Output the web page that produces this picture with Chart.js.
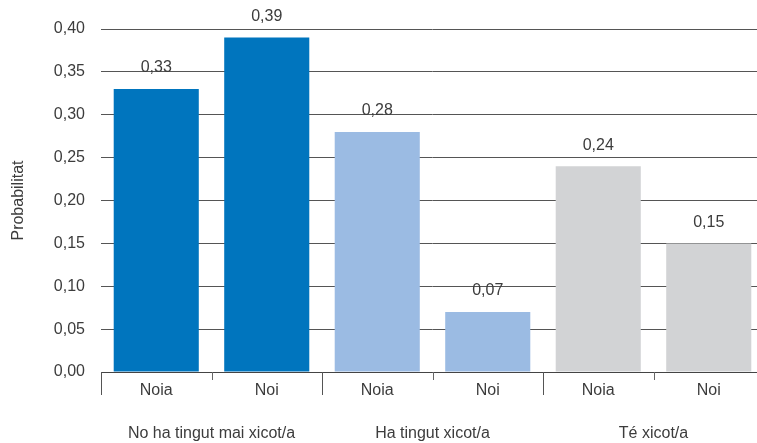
<!DOCTYPE html>
<html>
<head>
<meta charset="utf-8">
<script src="https://cdn.jsdelivr.net/npm/chart.js@4"></script>
<style>
  html, body { margin: 0; padding: 0; background: #fff; overflow: hidden; }
  #wrap { width: 766px; height: 443px; position: relative; }
</style>
</head>
<body>
<div id="wrap"><canvas id="c"></canvas></div>
<script>
const categories = ['Noia', 'Noi', 'Noia', 'Noi', 'Noia', 'Noi'];
const groups = ['No ha tingut mai xicot/a', 'Ha tingut xicot/a', 'Té xicot/a'];
const values = [0.33, 0.39, 0.28, 0.07, 0.24, 0.15];
const barColors = ['#0075BE', '#0075BE', '#9BBBE3', '#9BBBE3', '#D2D3D5', '#D2D3D5'];
const yTitle = 'Probabilitat';

const FONT = '"Liberation Sans", Arial, sans-serif';
const TEXT = '#3c3c3c';
const fmt = v => v.toFixed(2).replace('.', ',');

const xAxisPlugin = {
  id: 'xAxisPlugin',
  afterDraw(chart) {
    const ctx = chart.ctx;
    const xs = chart.scales.x;
    const area = chart.chartArea;
    const n = categories.length;
    const w = (xs.getPixelForValue(1) - xs.getPixelForValue(0));
    ctx.save();
    ctx.strokeStyle = '#444';
    ctx.lineWidth = 1;
    ctx.beginPath();
    ctx.moveTo(area.left, area.bottom + 0.5);
    ctx.lineTo(area.right, area.bottom + 0.5);
    ctx.stroke();
    for (let i = 0; i <= n; i++) {
      const x = Math.round(xs.getPixelForValue(i) - w / 2) + 0.5;
      const len = (i % 2 === 0) ? 23 : 8;
      ctx.strokeStyle = (i % 2 === 0) ? '#555' : '#666';
      ctx.beginPath();
      ctx.moveTo(x, area.bottom);
      ctx.lineTo(x, area.bottom + len);
      ctx.stroke();
    }
    ctx.fillStyle = TEXT;
    ctx.font = '16px ' + FONT;
    ctx.textAlign = 'center';
    ctx.textBaseline = 'middle';
    categories.forEach((c, i) => {
      ctx.fillText(c, xs.getPixelForValue(i), area.bottom + 19);
    });
    groups.forEach((g, gi) => {
      const x = (xs.getPixelForValue(gi * 2) + xs.getPixelForValue(gi * 2 + 1)) / 2;
      ctx.fillText(g, x, area.bottom + 62);
    });
    const meta = chart.getDatasetMeta(0);
    meta.data.forEach((bar, i) => {
      ctx.fillText(fmt(values[i]), bar.x, bar.y - 21);
    });
    ctx.restore();
  }
};

new Chart(document.getElementById('c'), {
  type: 'bar',
  data: {
    labels: categories,
    datasets: [{
      data: values,
      backgroundColor: barColors,
      borderWidth: 0,
      categoryPercentage: 1,
      barPercentage: 0.77
    }]
  },
  options: {
    responsive: true,
    maintainAspectRatio: false,
    animation: false,
    layout: { padding: { top: 29, right: 2, left: 0, bottom: 0 } },
    plugins: { legend: { display: false }, tooltip: { enabled: false } },
    scales: {
      x: {
        grid: { display: false },
        border: { display: false },
        ticks: { display: false },
        afterFit(scale) { scale.height = 71; }
      },
      y: {
        min: 0,
        max: 0.4,
        ticks: {
          stepSize: 0.05,
          callback: v => fmt(v),
          color: TEXT,
          font: { family: FONT, size: 16 },
          padding: 16
        },
        grid: { color: '#555', lineWidth: 1, drawTicks: false },
        border: { display: false },
        title: {
          display: true,
          text: yTitle,
          color: TEXT,
          font: { family: FONT, size: 16 },
          padding: { top: 9, bottom: 0 }
        },
        afterFit(scale) { scale.width = 101; }
      }
    }
  },
  plugins: [xAxisPlugin]
});
</script>
</body>
</html>
